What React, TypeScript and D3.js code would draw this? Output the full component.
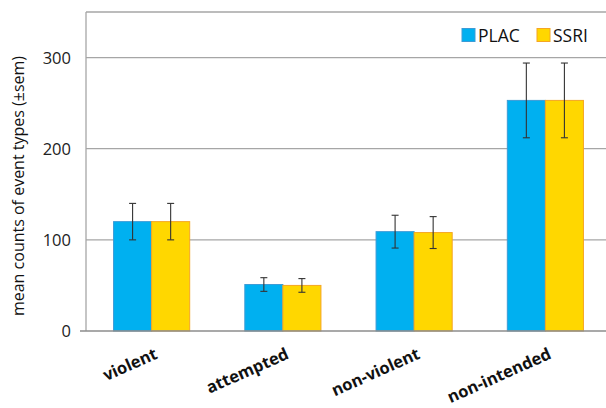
import React from "react";
import * as d3 from "d3";

const categories = ["violent", "attempted", "non-violent", "non-intended"];
const seriesNames = ["PLAC", "SSRI"];
const placMeans = [120, 51, 109, 253];
const placSem = [20, 7.5, 18, 41];
const ssriMeans = [120, 50, 108, 253];
const ssriSem = [20, 7.5, 17.5, 41];
const yTicks = [0, 100, 200, 300];

const W = 606;
const H = 408;
const FONT = "'Open Sans', 'Noto Sans', sans-serif";

export default function App() {
  const left = 86;
  const right = 611;
  const top = 12;
  const bottom = 331;

  const x = d3.scaleBand<string>().domain(categories).range([left, right]).paddingInner(0.42).paddingOuter(0.21);
  const x1 = d3.scaleBand<string>().domain(seriesNames).range([0, x.bandwidth()]);
  const y = d3.scaleLinear().domain([0, 350]).range([bottom, top]);

  const series = [
    { name: "PLAC", means: placMeans, sem: placSem, fill: "#00B0F0", stroke: "#3C9BD6" },
    { name: "SSRI", means: ssriMeans, sem: ssriSem, fill: "#FFD700", stroke: "#F5A623" },
  ];

  return (
    <svg width={W} height={H} style={{ position: "absolute", left: 0, top: 0, background: "#fff" }} fontFamily={FONT}>
      {[100, 200, 300, 350].map((t) => (
        <line key={t} x1={left} x2={W} y1={y(t)} y2={y(t)} stroke="#A6A6A6" strokeWidth={1.3} />
      ))}
      <line x1={left} x2={left} y1={top} y2={bottom} stroke="#A6A6A6" strokeWidth={1.3} />
      {series.map((s) =>
        categories.map((c, i) => {
          const bx = (x(c) as number) + (x1(s.name) as number);
          const bw = x1.bandwidth();
          return (
            <rect key={s.name + c} x={bx} y={y(s.means[i])} width={bw} height={y(0) - y(s.means[i])}
              fill={s.fill} stroke={s.stroke} strokeWidth={1} />
          );
        })
      )}
      <line x1={80} x2={W} y1={y(0)} y2={y(0)} stroke="#8C8C8C" strokeWidth={1.6} />
      {series.map((s) =>
        categories.map((c, i) => {
          const cx = (x(c) as number) + (x1(s.name) as number) + x1.bandwidth() / 2;
          const y1 = y(s.means[i] + s.sem[i]);
          const y2 = y(s.means[i] - s.sem[i]);
          return (
            <g key={"e" + s.name + c} stroke="#333" strokeWidth={1.1}>
              <line x1={cx} x2={cx} y1={y1} y2={y2} />
              <line x1={cx - 3.5} x2={cx + 3.5} y1={y1} y2={y1} />
              <line x1={cx - 3.5} x2={cx + 3.5} y1={y2} y2={y2} />
            </g>
          );
        })
      )}
      {yTicks.map((t) => (
        <text key={t} x={71} y={y(t)} dy="0.36em" textAnchor="end" fontSize={16.5} fill="#222">{t}</text>
      ))}
      <text transform={`translate(24,186) rotate(-90)`} textAnchor="middle" fontSize={16} fill="#111">
        mean counts of event types (±sem)
      </text>
      {categories.map((c) => {
        const cx = (x(c) as number) + x.bandwidth() / 2;
        return (
          <text key={c} transform={`translate(${cx + 7},${358}) rotate(-24)`} textAnchor="end"
            fontSize={16.5} fontWeight="bold" fill="#111">{c}</text>
        );
      })}
      <rect x={462} y={28.5} width={13} height={13} fill="#00B0F0" stroke="#3C9BD6" />
      <text x={478} y={41.5} fontSize={17.5} fill="#111">PLAC</text>
      <rect x={537} y={28.5} width={13} height={13} fill="#FFD700" stroke="#F5A623" />
      <text x={553} y={41.5} fontSize={17.5} fill="#111">SSRI</text>
    </svg>
  );
}
